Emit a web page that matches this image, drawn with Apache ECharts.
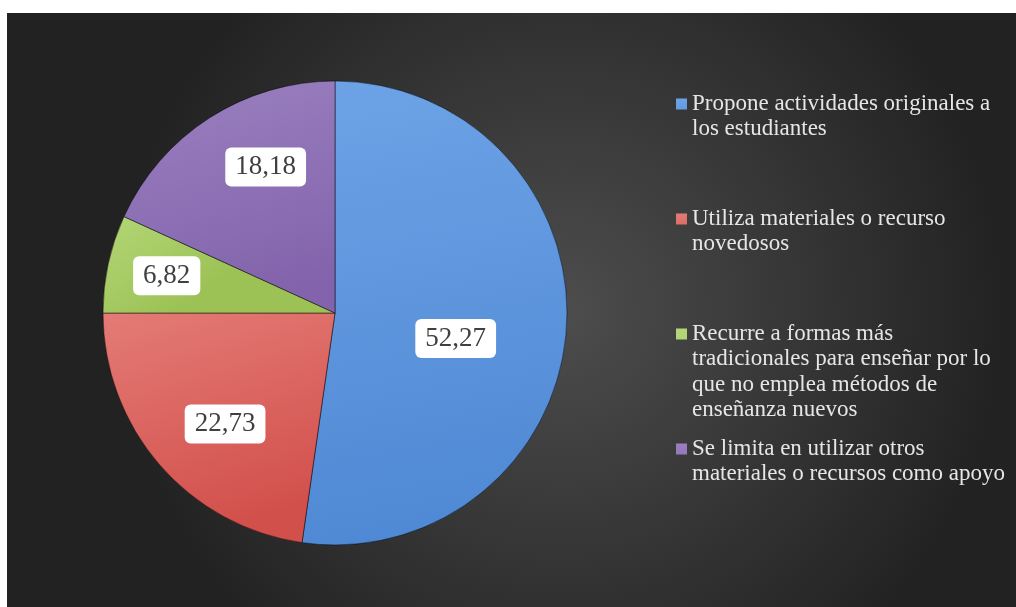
<!DOCTYPE html>
<html>
<head>
<meta charset="utf-8">
<script src="https://cdn.jsdelivr.net/npm/echarts@6/dist/echarts.min.js"></script>
<style>
  html, body { margin: 0; padding: 0; background: #fff; }
  #chart { position: absolute; left: 7px; top: 13px; width: 1009px; height: 594px; }
</style>
</head>
<body>
<div id="chart"></div>
<script>
// datos del gráfico
const categories = [
  'Propone actividades originales a los estudiantes',
  'Utiliza materiales o recurso novedosos',
  'Recurre a formas más tradicionales para enseñar por lo que no emplea métodos de enseñanza nuevos',
  'Se limita en utilizar otros materiales o recursos como apoyo'
];
const legendLabels = [
  'Propone actividades originales a\nlos estudiantes',
  'Utiliza materiales o recurso\nnovedosos',
  'Recurre a formas más\ntradicionales para enseñar por lo\nque no emplea métodos de\nenseñanza nuevos',
  'Se limita en utilizar otros\nmateriales o recursos como apoyo'
];
const values = [52.27, 22.73, 6.82, 18.18];

// estilos
const baseColors = ['#4f88d4', '#d2504c', '#9cc255', '#8364ac'];
const lightColors = ['#6da3e6', '#e47b76', '#b4d678', '#9a80c0'];
const labelOffsets = [[2, 17], [-20, 33], [-52, -12], [-5, -46]];
const legendFirstLine = [91, 206, 321, 436];
const LH = 25.3;

let chart = echarts.init(document.getElementById('chart'));

// una leyenda por elemento para que el cuadrito quede en la primera línea
let legends = categories.map((name, i) => {
  let lines = legendLabels[i].split('\n').length;
  let h = (lines - 1) * LH + 11;
  return {
    orient: 'vertical',
    left: 669,
    top: legendFirstLine[i] - 5.5 - (LH / 2 - 5.5),
    padding: 0,
    itemWidth: 11,
    itemHeight: h,
    itemGap: 0,
    icon: 'path://M0,0h11v11h-11z M0,' + (h - 0.01) + 'h0.01v0.01h-0.01z',
    itemStyle: { borderWidth: 0 },
    selectedMode: false,
    data: [name],
    formatter: () => legendLabels[i],
    textStyle: {
      color: '#e6e6e6',
      fontFamily: 'Liberation Serif',
      fontSize: 23,
      lineHeight: LH
    }
  };
});

let option = {
  backgroundColor: {
    type: 'radial', x: 0.55, y: 0.5, r: 0.75,
    colorStops: [
      { offset: 0, color: '#4d4d4d' },
      { offset: 1, color: '#222222' }
    ]
  },
  legend: legends,
  series: [
    {
      type: 'pie',
      center: [328, 300],
      radius: [0, 232],
      startAngle: 90,
      clockwise: true,
      avoidLabelOverlap: false,
      itemStyle: {
        borderColor: 'rgba(0,0,0,0.25)',
        borderWidth: 1
      },
      label: {
        show: true,
        position: 'inside',
        fontFamily: 'Liberation Serif',
        fontSize: 27,
        color: '#404040',
        backgroundColor: '#ffffff',
        borderRadius: 6,
        padding: [7, 10, 5, 10],
        formatter: p => p.value.toFixed(2).replace('.', ',')
      },
      labelLine: { show: false },
      emphasis: { disabled: true },
      data: categories.map((name, i) => ({
        name: name,
        value: values[i],
        label: { offset: labelOffsets[i] },
        itemStyle: {
          color: {
            type: 'linear', x: 0, y: 0, x2: 0.3, y2: 1,
            colorStops: [
              { offset: 0, color: lightColors[i] },
              { offset: 1, color: baseColors[i] }
            ]
          }
        }
      }))
    }
  ]
};
chart.setOption(option);
</script>
</body>
</html>
